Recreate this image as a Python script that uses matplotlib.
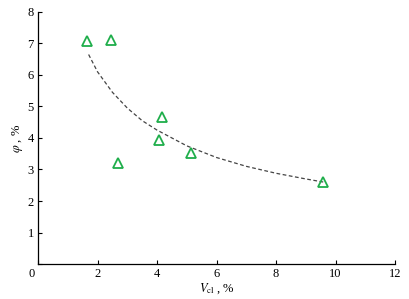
import matplotlib
matplotlib.use("Agg")

import matplotlib.pyplot as plt
import numpy as np

# ── Data ──────────────────────────────────────────────────────────────────────
v_cl = [1.65, 2.45, 2.69, 4.07, 4.17, 5.14, 9.58]
phi = [7.08, 7.10, 3.20, 3.94, 4.67, 3.52, 2.60]

# trend curve
fit_x = [1.7, 2.0, 2.5, 3.0, 3.5, 4.0, 5.0, 6.0, 7.0, 8.0, 9.0, 9.6]
fit_y = [6.65, 6.10, 5.45, 4.95, 4.55, 4.25, 3.75, 3.38, 3.10, 2.88, 2.70, 2.60]

xticks = [0, 2, 4, 6, 8, 10, 12]
yticks = [0, 1, 2, 3, 4, 5, 6, 7, 8]

# ── Figure ────────────────────────────────────────────────────────────────────
plt.rcParams["font.family"] = ["Liberation Serif", "DejaVu Serif"]
plt.rcParams["mathtext.fontset"] = "stix"

fig = plt.figure(figsize=(4.09, 2.99), dpi=100)
ax = fig.add_axes([0.093, 0.117, 0.873, 0.843])

ax.plot(fit_x, fit_y, ls=(0, (3, 2)), color="#444444", lw=0.9)
ax.plot(v_cl, phi, ls="none", marker="^", ms=7.5, mfc="none",
        mec="#1fae4b", mew=1.3)

ax.set_xlim(0, 12)
ax.set_ylim(0, 8)
ax.set_xticks(xticks)
ax.set_xticklabels([""] + [str(t) for t in xticks[1:]])
ax.set_yticks(yticks)
ax.set_yticklabels([""] + [str(t) for t in yticks[1:]])
ax.text(-0.12, -0.12, "0", ha="right", va="top", fontsize=9)

ax.tick_params(direction="in", length=3, width=0.8, labelsize=9, pad=3)
for side in ("top", "right"):
    ax.spines[side].set_visible(False)
for side in ("left", "bottom"):
    ax.spines[side].set_linewidth(0.9)

ax.set_xlabel(r"$V_{\rm cl}$ , %", fontsize=9, labelpad=1)
ax.set_ylabel(r"$\varphi$ , %", fontsize=9, labelpad=2)

fig.savefig("out.png", dpi=100)
plt.close(fig)
